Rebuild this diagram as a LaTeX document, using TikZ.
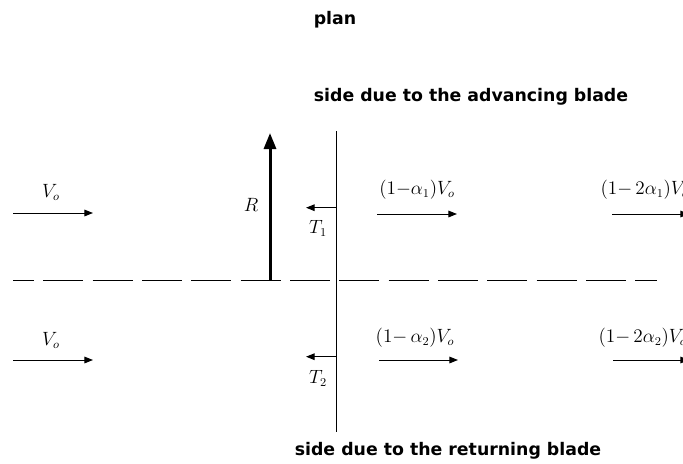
\documentclass[tikz,border=0pt]{standalone}
\usepackage{fontspec}
\newfontfamily\headfont{DejaVu Sans}
\usetikzlibrary{positioning,arrows.meta}

\begin{document}
\begin{tikzpicture}[x=0.75pt,y=-0.75pt,
    heading/.style={font=\headfont\bfseries\fontsize{13}{15}\selectfont},
    flow/.style={-{Triangle[length=6.5pt,width=5pt]},line width=0.75pt},
    bigflow/.style={-{Triangle[length=12pt,width=9pt]},line width=2.25pt},
    lbl/.style={font=\fontsize{13.5}{15}\selectfont,inner sep=1pt},
    axis/.style={line width=0.75pt,dash pattern=on 30pt off 7pt,dash phase=14.25pt}
]
\useasboundingbox (0,0) rectangle (683,464);

% Titles
\node[heading] (plan) at (335,20) {plan};
\node[heading] (adv) at (471,97) {side due to the advancing blade};
\node[heading] (ret) at (448,451) {side due to the returning blade};

% Blade and centre line
\coordinate (bladetop) at (336,131);
\coordinate (bladebot) at (336,432);
\draw[line width=0.75pt] (bladetop) -- (bladebot);
\coordinate (axisL) at (13,280);
\coordinate (axisR) at (657,280);
\draw[axis] (axisL) -- (axisR);

% Radius
\coordinate (Rfoot) at (270,280);
\coordinate (Rtip) at (270,133);
\draw[bigflow] (Rfoot) -- (Rtip);
\node[lbl] (Rlbl) at (251,205) {$R$};

% Thrust on the blade
\coordinate (T1a) at (336,207.7);
\coordinate (T1b) at (306,207.7);
\draw[flow] (T1a) -- (T1b);
\node[lbl] (T1lbl) at (318,228) {$T_1$};
\coordinate (T2a) at (336,356.7);
\coordinate (T2b) at (306,356.7);
\draw[flow] (T2a) -- (T2b);
\node[lbl] (T2lbl) at (318,378) {$T_2$};

% Upstream flow
\coordinate (up1a) at (13,213);
\coordinate (up1b) at (93,213);
\draw[flow] (up1a) -- (up1b);
\node[lbl] (up1lbl) at (51,192) {$V_o$};
\coordinate (up2a) at (13,360);
\coordinate (up2b) at (93,360);
\draw[flow] (up2a) -- (up2b);
\node[lbl] (up2lbl) at (51,340) {$V_o$};

% Flow at the blade
\coordinate (mid1a) at (377,214);
\coordinate (mid1b) at (457,214);
\draw[flow] (mid1a) -- (mid1b);
\node[lbl] (mid1lbl) at (417,190) {$(1{-}\alpha_1)V_o$};
\coordinate (mid2a) at (379,360);
\coordinate (mid2b) at (458,360);
\draw[flow] (mid2a) -- (mid2b);
\node[lbl] (mid2lbl) at (415,338) {$(1{-}\,\alpha_2)V_o$};

% Downstream flow
\coordinate (down1a) at (612,214);
\coordinate (down1b) at (689,214);
\draw[flow] (down1a) -- (down1b);
\node[lbl,anchor=west] (down1lbl) at (599,190) {$(1{-}\,2\alpha_1)V_o$};
\coordinate (down2a) at (613,360);
\coordinate (down2b) at (689,360);
\draw[flow] (down2a) -- (down2b);
\node[lbl,anchor=west] (down2lbl) at (597,338) {$(1{-}\,2\alpha_2)V_o$};

\end{tikzpicture}
\end{document}
